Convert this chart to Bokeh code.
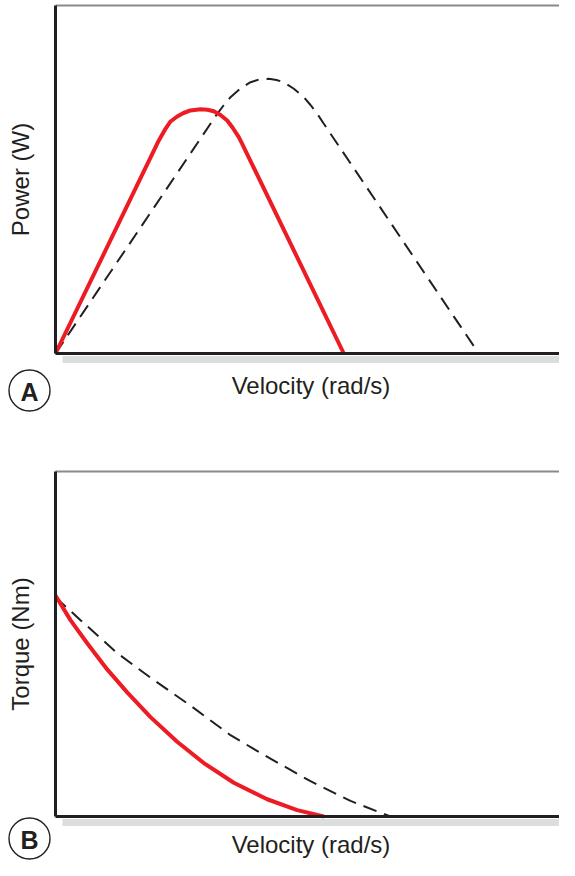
from bokeh.plotting import figure
from bokeh.models import Range1d, LinearAxis, FixedTicker, Label
from bokeh.layouts import column
from bokeh.embed import file_html
from bokeh.resources import INLINE

# ---- data ----
power_red_v = [0.0, 1.987, 2.115, 2.212, 2.340, 2.462, 2.596, 2.788, 2.923, 3.044,
               3.173, 3.302, 3.404, 3.525, 3.590, 5.544]
power_red_p = [0.0, 6.121, 6.457, 6.667, 6.810, 6.911, 6.983, 7.020, 7.006, 6.963,
               6.853, 6.695, 6.494, 6.216, 6.026, 0.0]

power_dash_v = [0.0, 3.110, 3.231, 3.365, 3.558, 3.750, 3.923, 4.102, 4.250, 4.390,
                4.577, 4.775, 4.904, 5.033, 5.160, 8.140]
power_dash_p = [0.0, 6.888, 7.126, 7.365, 7.615, 7.796, 7.879, 7.894, 7.859, 7.796,
                7.615, 7.365, 7.141, 6.888, 6.601, 0.0]

torque_red_v = [0.0, 0.288, 0.610, 0.994, 1.379, 1.827, 2.340, 2.852, 3.429, 4.071, 4.648, 5.160]
torque_red_t = [6.406, 5.691, 5.023, 4.263, 3.597, 2.880, 2.166, 1.549, 0.977, 0.500, 0.186, 0.0]

torque_dash_v = [0.0, 0.481, 1.187, 1.827, 2.596, 3.365, 4.006, 4.904, 5.673, 6.442]
torque_dash_t = [6.357, 5.691, 4.737, 4.023, 3.214, 2.357, 1.786, 1.023, 0.451, 0.0]

x_label = "Velocity (rad/s)"
y_labels = ["Power (W)", "Torque (Nm)"]
panel_tags = ["A", "B"]
y_top = 10.0          # top of each plot box (axis units)
x_top = 9.9           # right end of the box lines (beyond the visible edge)

FONT = "Liberation Sans"
DARK = "#231f20"
RED = "#ed1c24"
GRAY_TOP = "#8a8a8a"
SHADOW = "#dcddde"

W = 559
H = 430
LEFT_PX = 55          # x pixel of the y axis
PX_X = 52.0           # pixels per velocity unit


def fixed_axis(loc, bounds, **kw):
    return LinearAxis(ticker=FixedTicker(ticks=[]), fixed_location=loc, bounds=bounds,
                      major_tick_in=0, major_tick_out=0, minor_tick_out=0, minor_tick_in=0,
                      major_label_text_font_size="0px", **kw)


def make_panel(base_px, px_y, ylab, tag, tag_y, shadow_gap, lab_standoff):
    x0 = -LEFT_PX / PX_X
    x1 = (W - LEFT_PX) / PX_X
    y1 = base_px / px_y
    y0 = -(H - base_px) / px_y
    p = figure(width=W, height=H, output_backend="svg", toolbar_location=None,
               x_range=Range1d(x0, x1), y_range=Range1d(y0, y1),
               x_axis_location=None, y_axis_location=None,
               min_border_left=0, min_border_right=0, min_border_top=0, min_border_bottom=0)
    p.grid.visible = False
    p.outline_line_color = None

    p.add_layout(fixed_axis(0, (0, y_top), axis_line_color=DARK, axis_line_width=3,
                            axis_label=ylab, axis_label_text_font=FONT,
                            axis_label_text_font_size="24px",
                            axis_label_text_font_style="normal",
                            axis_label_text_color=DARK, axis_label_standoff=22), "left")
    p.add_layout(fixed_axis(-shadow_gap / px_y, (7 / PX_X, x_top), axis_line_color=SHADOW,
                            axis_line_width=7, axis_label=x_label, axis_label_text_font=FONT,
                            axis_label_text_font_size="24px",
                            axis_label_text_font_style="normal",
                            axis_label_text_color=DARK,
                            axis_label_standoff=lab_standoff), "below")
    p.add_layout(fixed_axis(0, (0, x_top), axis_line_color=DARK, axis_line_width=3), "below")
    p.add_layout(fixed_axis(y_top, (0, x_top), axis_line_color=GRAY_TOP,
                            axis_line_width=2), "above")

    tx = -26 / PX_X
    p.scatter([tx], [tag_y], marker="circle", size=41, fill_color=None,
              line_color=DARK, line_width=1.4)
    p.add_layout(Label(x=tx, y=tag_y, text=tag, text_font=FONT, text_font_style="bold",
                       text_font_size="25px", text_color=DARK,
                       text_align="center", text_baseline="middle", y_offset=-1))
    return p


pa = make_panel(353, 34.8, y_labels[0], panel_tags[0], -37 / 34.8, 5.5, 12)
pa.line(power_dash_v, power_dash_p, line_color=DARK, line_width=2, line_dash="14 8")
pa.line(power_red_v, power_red_p, line_color=RED, line_width=4, line_join="round")

pb = make_panel(816 - H, 34.5, y_labels[1], panel_tags[1], -22 / 34.5, 5.5, 8)
pb.line(torque_dash_v, torque_dash_t, line_color=DARK, line_width=2, line_dash="14 8")
pb.line(torque_red_v, torque_red_t, line_color=RED, line_width=4, line_join="round")

layout = column(pa, pb, spacing=0)
open("out.html", "w").write(file_html(layout, INLINE))
